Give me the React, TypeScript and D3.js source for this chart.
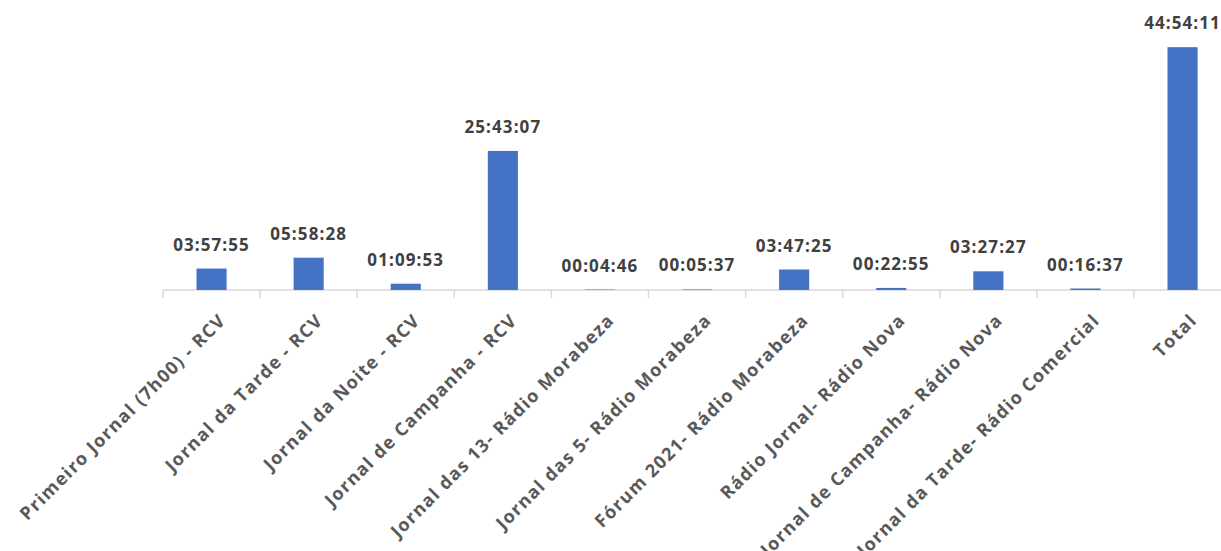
import React from "react";
import * as d3 from "d3";

const categories: string[] = [
  "Primeiro Jornal (7h00) - RCV",
  "Jornal da Tarde - RCV",
  "Jornal da Noite - RCV",
  "Jornal de Campanha - RCV",
  "Jornal das 13- Rádio Morabeza",
  "Jornal das 5- Rádio Morabeza",
  "Fórum 2021- Rádio Morabeza",
  "Rádio Jornal- Rádio Nova",
  "Jornal de Campanha- Rádio Nova",
  "Jornal da Tarde- Rádio Comercial",
  "Total",
];

const durations: string[] = [
  "03:57:55",
  "05:58:28",
  "01:09:53",
  "25:43:07",
  "00:04:46",
  "00:05:37",
  "03:47:25",
  "00:22:55",
  "03:27:27",
  "00:16:37",
  "44:54:11",
];

const toHours = (s: string) => {
  const [h, m, sec] = s.split(":").map(Number);
  return h + m / 60 + sec / 3600;
};

const W = 1221;
const H = 551;
const baseY = 290;
const left = 163;
const step = 97.1;

export default function App() {
  const x = d3
    .scaleBand<string>()
    .domain(categories)
    .range([left, left + step * categories.length])
    .paddingInner(0.69)
    .paddingOuter(0.345);
  const y = d3.scaleLinear().domain([0, 50]).range([baseY, baseY - 270.4]);

  const ticks = d3.range(categories.length + 1).map((i) => left + i * x.step());

  return (
    <svg
      width={W}
      height={H}
      style={{ position: "absolute", left: 0, top: 0, background: "#fff" }}
    >
      <line x1={left} x2={W} y1={baseY} y2={baseY} stroke="#D9D9D9" strokeWidth={1.5} />
      {ticks.map((t, i) => (
        <line key={i} x1={t} x2={t} y1={baseY} y2={baseY + 8} stroke="#D9D9D9" strokeWidth={1.5} />
      ))}
      {categories.map((c, i) => {
        const v = toHours(durations[i]);
        const bx = x(c)!;
        const top = y(v);
        return (
          <g key={c}>
            <rect x={bx} y={top} width={x.bandwidth()} height={baseY - top} fill="#4472C4" />
            <text
              x={bx + x.bandwidth() / 2}
              y={top - 18}
              textAnchor="middle"
              fontFamily="'Open Sans', sans-serif"
              fontWeight={700}
              fontSize={17}
              letterSpacing={1.1}
              fill="#404040"
            >
              {durations[i]}
            </text>
            <text
              transform={`translate(${bx + x.bandwidth() / 2 + 11},${baseY + 27}) rotate(-45)`}
              textAnchor="end"
              dy="0.35em"
              fontFamily="'Open Sans', sans-serif"
              fontWeight={700}
              fontSize={18}
              letterSpacing={1.3}
              fill="#595959"
            >
              {c}
            </text>
          </g>
        );
      })}
    </svg>
  );
}
